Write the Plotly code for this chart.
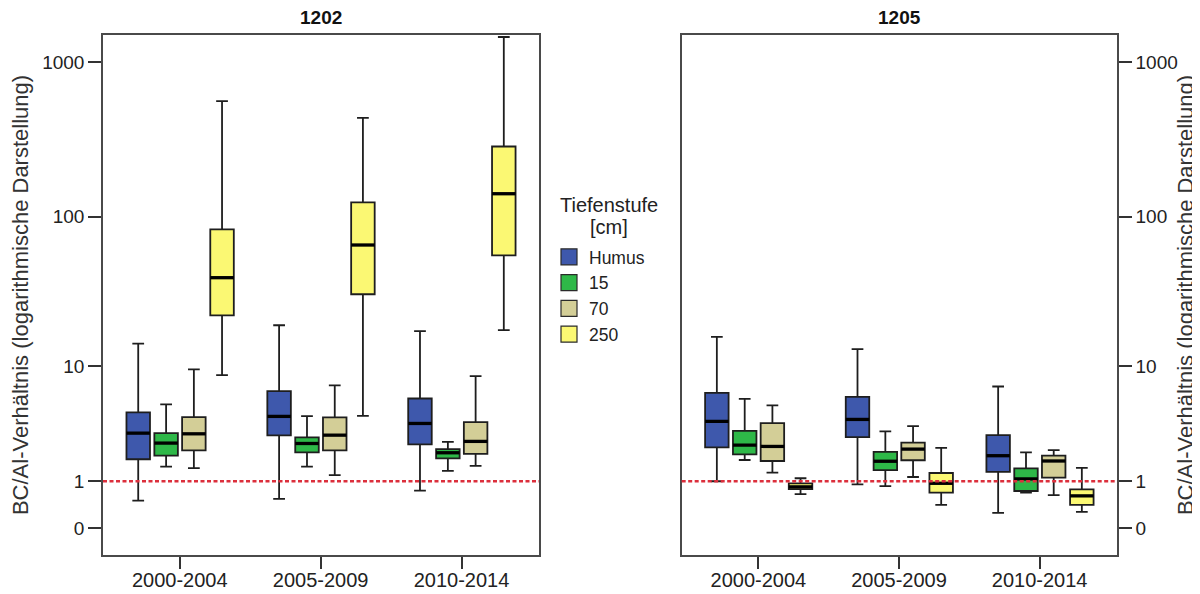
import math
import plotly.graph_objects as go

# ---------------- data ----------------
periods = ["2000-2004", "2005-2009", "2010-2014"]
depths = ["Humus", "15", "70", "250"]
panels = ["1202", "1205"]
legend_title_lines = ["Tiefenstufe", "[cm]"]

# each entry: (lower whisker, Q1, median, Q3, upper whisker) per period
p1202_humus = [(0.50, 1.77, 3.08, 4.55, 14.4), (0.54, 2.95, 4.23, 6.60, 19.2), (0.74, 2.45, 3.71, 5.82, 17.5)]
p1202_d15 = [(1.48, 1.92, 2.52, 3.08, 5.25), (1.48, 2.07, 2.50, 2.83, 4.25), (1.33, 1.81, 2.05, 2.22, 2.59)]
p1202_d70 = [(1.43, 2.16, 3.04, 4.17, 9.49), (1.19, 2.16, 2.96, 4.15, 7.28), (1.51, 2.00, 2.61, 3.80, 8.49)]
p1202_d250 = [(8.64, 22.4, 39.9, 82.7, 559.0), (4.27, 31.0, 65.4, 124.0, 437.0), (17.8, 56.0, 141.0, 285.0, 1450.0)]

p1205_humus = [(1.00, 2.30, 3.86, 6.42, 16.0), (0.91, 2.85, 4.00, 5.99, 13.2), (0.25, 1.30, 1.92, 2.96, 7.15)]
p1205_d15 = [(1.74, 1.98, 2.42, 3.22, 5.78), (0.86, 1.36, 1.69, 2.09, 3.19), (0.69, 0.73, 1.07, 1.42, 2.07)]
p1205_d70 = [(1.27, 1.70, 2.35, 3.73, 5.15), (1.13, 1.73, 2.22, 2.54, 3.53), (0.63, 1.11, 1.70, 1.92, 2.17)]
p1205_d250 = [(0.65, 0.78, 0.84, 0.94, 1.09), (0.41, 0.69, 0.94, 1.26, 2.28), (0.27, 0.41, 0.61, 0.77, 1.44)]

y_tick_values = [0, 1, 10, 100, 1000]
reference_value = 1

# ---------------- styles ----------------
colors = ["#3E58AC", "#2EB848", "#D3CE97", "#FBF873"]
offsets = [-0.295, -0.097, 0.1, 0.3]
box_w = 0.167
FONT = "Liberation Sans, Arial, sans-serif"
TXT = "#222222"

# the page body has an 8px margin, so the figure is drawn 8px shorter/narrower
W, H = 1192, 586


def safelog(v):
    # SPSS "safe log" scale: log10(1 + v)
    return math.log10(1.0 + v)


panel_data = {
    "1202": [p1202_humus, p1202_d15, p1202_d70, p1202_d250],
    "1205": [p1205_humus, p1205_d15, p1205_d70, p1205_d250],
}

fig = go.Figure()

for pi, panel in enumerate(panels):
    xa = "x" if pi == 0 else "x2"
    ya = "y" if pi == 0 else "y2"
    for di, stats in enumerate(panel_data[panel]):
        xs = [i + offsets[di] for i in range(len(periods))]
        fig.add_trace(go.Box(
            x=xs,
            lowerfence=[safelog(s[0]) for s in stats],
            q1=[safelog(s[1]) for s in stats],
            median=[safelog(s[2]) for s in stats],
            q3=[safelog(s[3]) for s in stats],
            upperfence=[safelog(s[4]) for s in stats],
            width=box_w,
            whiskerwidth=0.5,
            fillcolor=colors[di],
            line=dict(color="#1e1e1e", width=1.8),
            boxpoints=False,
            showlegend=False,
            hoverinfo="skip",
            xaxis=xa, yaxis=ya,
        ))
        # thicker median bars
        mx, my = [], []
        for i, s in enumerate(stats):
            c = i + offsets[di]
            mx += [c - box_w / 2, c + box_w / 2, None]
            my += [safelog(s[2]), safelog(s[2]), None]
        fig.add_trace(go.Scatter(
            x=mx, y=my, mode="lines",
            line=dict(color="#000000", width=3.3),
            showlegend=False, hoverinfo="skip",
            xaxis=xa, yaxis=ya,
        ))

# legend entries
for di, d in enumerate(depths):
    fig.add_trace(go.Scatter(
        x=[None], y=[None], mode="markers", name=d,
        marker=dict(symbol="square", size=16, color=colors[di],
                    line=dict(color="#2a2a2a", width=1.2)),
        showlegend=True,
    ))

yr = [-0.174, 3.1745]
xr = [-0.545, 2.55]
axis_common = dict(
    showline=True, mirror=True, linecolor="#4a4a4a", linewidth=1.5,
    ticks="outside", tickwidth=1.5, tickcolor="#333333",
    showgrid=False, zeroline=False,
)
xtick = dict(ticklen=12, ticklabelstandoff=-6, tickangle=0,
             tickfont=dict(family=FONT, size=20, color=TXT))
ytick = dict(ticklen=13, tickfont=dict(family=FONT, size=19, color=TXT))
ytitle = "BC/Al-Verhältnis (logarithmische Darstellung)"

ML, MR, MT, MB = 95, 83, 27, 39
PW = W - ML - MR
PH = H - MT - MB

fig.update_layout(
    width=W, height=H,
    margin=dict(l=ML, r=MR, t=MT, b=MB, autoexpand=False),
    paper_bgcolor="white", plot_bgcolor="white",
    boxmode="overlay",
    font=dict(family=FONT, color=TXT),
    xaxis=dict(domain=[0, 0.430], range=xr, tickvals=[0, 1, 2], ticktext=periods,
               anchor="y", **axis_common, **xtick),
    xaxis2=dict(domain=[0.5707, 1], range=xr, tickvals=[0, 1, 2], ticktext=periods,
                anchor="y2", **axis_common, **xtick),
    yaxis=dict(domain=[0, 1], range=yr, anchor="x",
               tickvals=[safelog(v) for v in y_tick_values],
               ticktext=[str(v) for v in y_tick_values],
               title=dict(text=ytitle, font=dict(family=FONT, size=22, color="#333333"), standoff=8),
               **axis_common, **ytick),
    yaxis2=dict(domain=[0, 1], range=yr, anchor="x2", side="right",
                tickvals=[safelog(v) for v in y_tick_values],
                ticktext=[str(v) for v in y_tick_values],
                title=dict(text=ytitle, font=dict(family=FONT, size=22, color="#333333"), standoff=1),
                **axis_common, **ytick),
    legend=dict(
        font=dict(family=FONT, size=17.5, color=TXT),
        x=(541 - ML) / PW, y=1 - (231 - MT) / PH, xanchor="left", yanchor="top",
        itemsizing="trace", bgcolor="rgba(0,0,0,0)", tracegroupgap=0,
    ),
    showlegend=True,
)

# legend heading (two centred lines)
for k, (line, yc) in enumerate(zip(legend_title_lines, [197, 219])):
    fig.add_annotation(text=line, xref="paper", yref="paper",
                       x=(601 - ML) / PW, y=1 - (yc - MT) / PH,
                       xanchor="center", yanchor="middle", showarrow=False,
                       font=dict(family=FONT, size=20, color=TXT))

# reference line at 1
for xa, ya in [("x", "y"), ("x2", "y2")]:
    fig.add_shape(type="line", xref=f"{xa} domain", yref=ya,
                  x0=0, x1=1, y0=safelog(reference_value), y1=safelog(reference_value),
                  line=dict(color="#dc2f3c", width=2.5, dash="4px,2.5px"))

# panel titles
for xa, name in [("x", panels[0]), ("x2", panels[1])]:
    fig.add_annotation(text=f"<b>{name}</b>", xref=f"{xa} domain", yref="paper",
                       x=0.5, y=1, yanchor="bottom", yshift=5, showarrow=False,
                       font=dict(family=FONT, size=19, color="#111111"))

fig.write_html("out.html")
